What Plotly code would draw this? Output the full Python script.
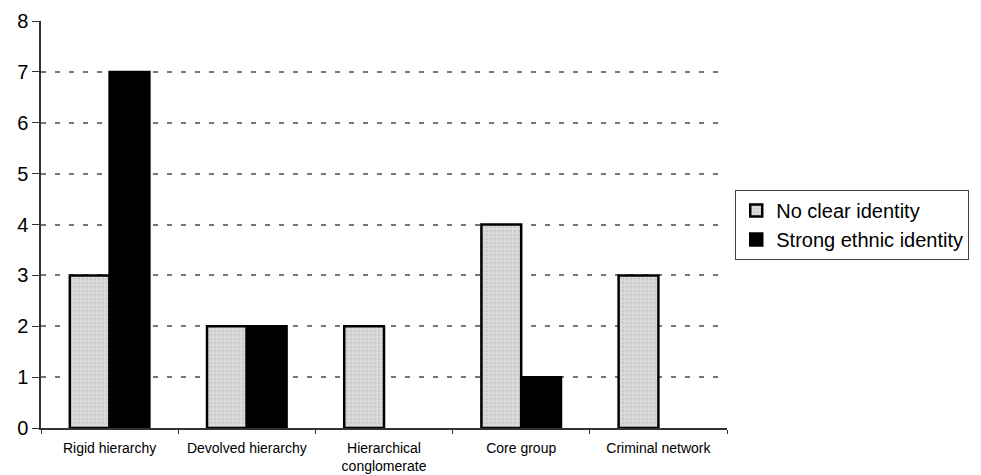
import plotly.graph_objects as go

categories = ["Rigid hierarchy", "Devolved hierarchy", "Hierarchical<br>conglomerate",
              "Core group", "Criminal network"]
no_clear_identity = [3, 2, 2, 4, 3]
strong_ethnic_identity = [7, 2, 0, 1, 0]
y_ticks = [0, 1, 2, 3, 4, 5, 6, 7, 8]


def outline_widths(values, w=2.5):
    # no outline on empty bars, so a zero count leaves no mark on the baseline
    return [w if v > 0 else 0 for v in values]


fig = go.Figure()
fig.add_trace(go.Bar(
    x=categories, y=no_clear_identity, name="No clear identity",
    marker=dict(color="#d2d2d2",
                line=dict(color="black", width=outline_widths(no_clear_identity)),
                pattern=dict(shape=".", fgcolor="#b8b8b8", bgcolor="#dadada",
                             size=4, solidity=0.3)),
))
fig.add_trace(go.Bar(
    x=categories, y=strong_ethnic_identity, name="Strong ethnic identity",
    marker=dict(color="black",
                line=dict(color="black", width=outline_widths(strong_ethnic_identity))),
))

fig.update_layout(
    width=981, height=475,
    margin=dict(l=41, r=254, t=21, b=47),
    paper_bgcolor="white", plot_bgcolor="white",
    barmode="group", bargap=0.42, bargroupgap=0,
    font=dict(family="Liberation Sans, Arial, sans-serif", color="black"),
    legend=dict(x=1.012, y=0.585, xanchor="left", yanchor="top",
                bordercolor="#444", borderwidth=1, font=dict(size=20),
                itemwidth=30, tracegroupgap=0),
    showlegend=True,
)
fig.update_yaxes(
    range=[0, 8], tickvals=y_ticks, showline=True, linecolor="#333", linewidth=1.5,
    ticks="outside", ticklen=7, tickcolor="#333",
    showgrid=True, gridcolor="#777", griddash="5px,9px", gridwidth=1.5,
    tickfont=dict(size=20), zeroline=False, automargin=False,
)
fig.update_xaxes(
    showline=True, linecolor="#333", linewidth=1.5,
    ticks="outside", tickson="boundaries", ticklen=4, tickcolor="#333",
    tickfont=dict(size=14), showgrid=False, ticklabelstandoff=6, automargin=False,
)

fig.write_html("out.html")
